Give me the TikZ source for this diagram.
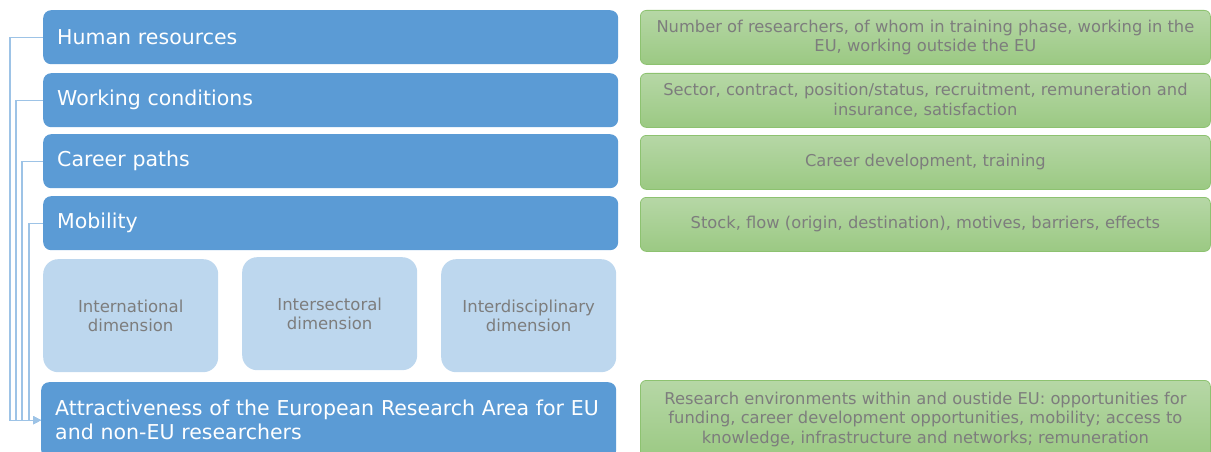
\documentclass[tikz,border=0pt]{standalone}
\usepackage{fontspec}
\setmainfont{DejaVu Sans}
\usetikzlibrary{arrows.meta}
\definecolor{cTopic}{RGB}{91,155,213}
\definecolor{cDim}{RGB}{189,215,238}
\definecolor{cIndTop}{RGB}{182,215,166}
\definecolor{cIndBot}{RGB}{155,201,131}
\definecolor{cIndLine}{RGB}{141,194,112}
\definecolor{cLink}{RGB}{157,195,230}
\definecolor{midgray}{RGB}{125,125,125}

\begin{document}
\begin{tikzpicture}[x=1pt, y=-1pt,
    topic/.style={fill=cTopic, rounded corners=8pt, text=white, anchor=north west,
      font=\fontsize{20.5}{24}\selectfont, minimum width=575pt, minimum height=54pt,
      text width=547pt, inner xsep=14pt, inner ysep=0pt, align=left},
    dim/.style={fill=cDim, rounded corners=15pt, text=midgray, anchor=north west,
      font=\fontsize{16.5}{19.5}\selectfont, minimum width=175pt, minimum height=113pt,
      inner sep=0pt, align=center},
    ind/.style={top color=cIndTop, bottom color=cIndBot, draw=cIndLine, line width=0.8pt,
      rounded corners=6pt, text=midgray, anchor=north west,
      font=\fontsize{16.3}{19.5}\selectfont, minimum width=570pt, minimum height=54pt,
      inner sep=0pt, align=center},
    link/.style={cLink, line width=1.1pt}]
  \useasboundingbox (0,0) rectangle (1211,452);
  % topics
  \node[topic] (hr)   at (43,10)  {Human resources};
  \node[topic] (wc)   at (43,73)  {Working conditions};
  \node[topic] (cp)   at (43,134) {Career paths};
  \node[topic] (mob)  at (43,196) {Mobility};
  \node[topic, minimum height=76pt] (attr) at (41,382)
    {Attractiveness of the European Research Area for EU\\and non-EU researchers};
  % mobility dimensions
  \node[dim] (intl)  at (43,259)  {International\\dimension};
  \node[dim] (isect) at (242,257) {Intersectoral\\dimension};
  \node[dim] (idisc) at (441,259) {Interdisciplinary\\dimension};
  % indicators
  \node[ind] (hrInd)   at (640,10)  {Number of researchers, of whom in training phase, working in the\\EU, working outside the EU};
  \node[ind] (wcInd)   at (640,73)  {Sector, contract, position/status, recruitment, remuneration and\\insurance, satisfaction};
  \node[ind] (cpInd)   at (640,135) {Career development, training};
  \node[ind] (mobInd)  at (640,197) {Stock, flow (origin, destination), motives, barriers, effects};
  \node[ind, minimum height=78pt] (attrInd) at (640,380)
    {Research environments within and oustide EU: opportunities for\\funding, career development opportunities, mobility; access to\\knowledge, infrastructure and networks; remuneration};
  % links into attractiveness
  \draw[link, -{Triangle[length=8pt,width=8pt]}] (hr.west)  -- ++(-33,0) |- (attr.west);
  \draw[link, -{Triangle[length=8pt,width=8pt]}] (wc.west)  -- ++(-27,0) |- (attr.west);
  \draw[link, -{Triangle[length=8pt,width=8pt]}] (cp.west)  -- ++(-21,0) |- (attr.west);
  \draw[link, -{Triangle[length=8pt,width=8pt]}] (mob.west) -- ++(-14,0) |- (attr.west);
\end{tikzpicture}
\end{document}
